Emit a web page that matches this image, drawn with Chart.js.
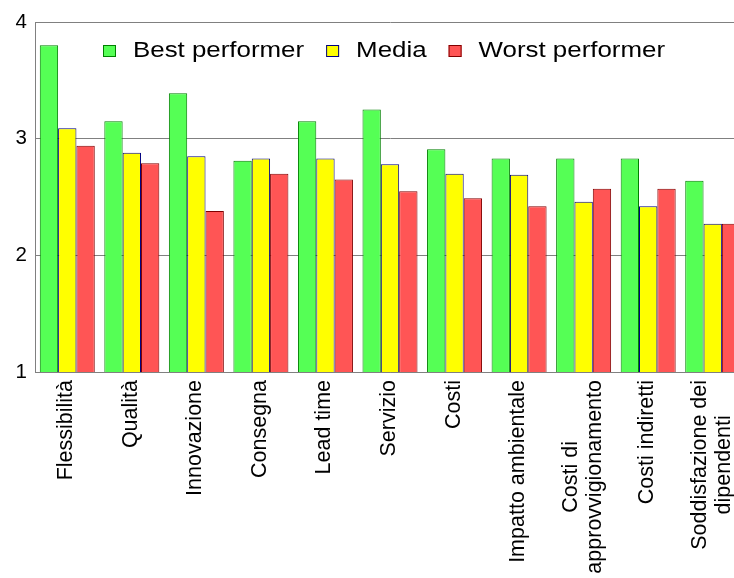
<!DOCTYPE html>
<html lang="it">
<head>
<meta charset="UTF-8">
<title>Best performer / Media / Worst performer</title>
<script src="https://cdn.jsdelivr.net/npm/chart.js@4"></script>
<style>
  html, body { margin: 0; padding: 0; background: #fff; overflow: hidden; }
  #wrap { width: 760px; height: 578px; }
</style>
</head>
<body>
<div id="wrap"><canvas id="chart" width="760" height="578"></canvas></div>
<script>
// 項目名（2行のものは配列で）
const categories = [
    'Flessibilità', 'Qualità', 'Innovazione', 'Consegna', 'Lead time', 'Servizio',
    'Costi', 'Impatto ambientale', ['Costi di', 'approvvigionamento'],
    'Costi indiretti', ['Soddisfazione dei', 'dipendenti']
];

// 各シリーズの値
const bestValues  = [3.80, 3.15, 3.39, 2.81, 3.15, 3.25, 2.91, 2.83, 2.83, 2.83, 2.64];
const mediaValues = [3.09, 2.88, 2.85, 2.83, 2.83, 2.78, 2.70, 2.69, 2.46, 2.42, 2.27];
const worstValues = [2.94, 2.79, 2.38, 2.70, 2.65, 2.55, 2.49, 2.42, 2.57, 2.57, 2.27];

// y軸の目盛り
const yTicks = [1, 2, 3, 4];

const seriesNames = ['Best performer', 'Media', 'Worst performer'];

const FONT = "'Liberation Sans', Arial, sans-serif";

// 凡例はグラフの内側・上部に描く（Chart.js標準の凡例だと場所を取るので自前）
const insideLegend = {
    id: 'insideLegend',
    afterDatasetsDraw(chart) {
        const ctx = chart.ctx;
        const stretch = 1.15; // 文字は少し横長
        ctx.save();
        ctx.font = `22.5px ${FONT}`;
        ctx.textBaseline = 'alphabetic';
        let x = 103;
        chart.data.datasets.forEach(ds => {
            ctx.fillStyle = ds.backgroundColor;
            ctx.fillRect(x, 45, 13, 12);
            ctx.strokeStyle = ds.borderColor;
            ctx.lineWidth = 1;
            ctx.strokeRect(x + 0.5, 45.5, 12, 11);
            x += 30;
            ctx.save();
            ctx.translate(x, 57);
            ctx.scale(stretch, 1);
            ctx.fillStyle = '#000';
            ctx.fillText(ds.label, 0, 0);
            ctx.restore();
            x += ctx.measureText(ds.label).width * stretch + 22;
        });
        ctx.restore();
    }
};

// x軸ラベル：90度回転、上端そろえ、2行のときは行ごとに中央そろえ
const verticalLabels = {
    id: 'verticalLabels',
    afterDraw(chart) {
        const ctx = chart.ctx;
        const xScale = chart.scales.x;
        const top = chart.chartArea.bottom + 8;
        const lineH = 24;
        ctx.save();
        ctx.font = `21.5px ${FONT}`;
        ctx.fillStyle = '#000';
        ctx.textBaseline = 'alphabetic';
        ctx.textAlign = 'center';
        chart.data.labels.forEach((label, i) => {
            const lines = Array.isArray(label) ? label : [label];
            const maxW = Math.max(...lines.map(l => ctx.measureText(l).width));
            const cx = xScale.getPixelForValue(i);
            const firstBase = cx + 5 - (lines.length - 1) * lineH / 2;
            lines.forEach((line, j) => {
                ctx.save();
                ctx.translate(firstBase + j * lineH, top + maxW / 2);
                ctx.rotate(-Math.PI / 2);
                ctx.fillText(line, 0, 0);
                ctx.restore();
            });
        });
        ctx.restore();
    }
};

const colors = [
    { fill: 'rgb(85, 255, 85)',  line: 'rgb(0, 128, 0)' },
    { fill: 'rgb(255, 255, 0)',  line: 'rgb(0, 0, 128)' },
    { fill: 'rgb(255, 85, 85)',  line: 'rgb(128, 0, 0)' }
];
const values = [bestValues, mediaValues, worstValues];

new Chart(document.getElementById('chart'), {
    type: 'bar',
    data: {
        labels: categories,
        datasets: values.map((v, k) => ({
            label: seriesNames[k],
            data: v,
            backgroundColor: colors[k].fill,
            borderColor: colors[k].line,
            borderWidth: 1,
            barPercentage: 1,
            categoryPercentage: 0.852
        }))
    },
    options: {
        responsive: false,
        animation: false,
        layout: { padding: { top: 22, right: 15, left: 0, bottom: 0 } },
        plugins: {
            legend: { display: false },
            tooltip: { enabled: false }
        },
        scales: {
            x: {
                grid: { display: false },
                border: { display: true, color: '#808080' },
                ticks: { display: false },
                afterFit(scale) { scale.height = 206; }
            },
            y: {
                min: 1,
                max: 4,
                afterBuildTicks(scale) { scale.ticks = yTicks.map(v => ({ value: v })); },
                ticks: { padding: 8, color: '#000', font: { family: FONT, size: 20.5 } },
                grid: { color: '#808080', drawTicks: false },
                border: { color: '#808080' },
                afterFit(scale) { scale.width = 35; }
            }
        }
    },
    plugins: [insideLegend, verticalLabels]
});
</script>
</body>
</html>
